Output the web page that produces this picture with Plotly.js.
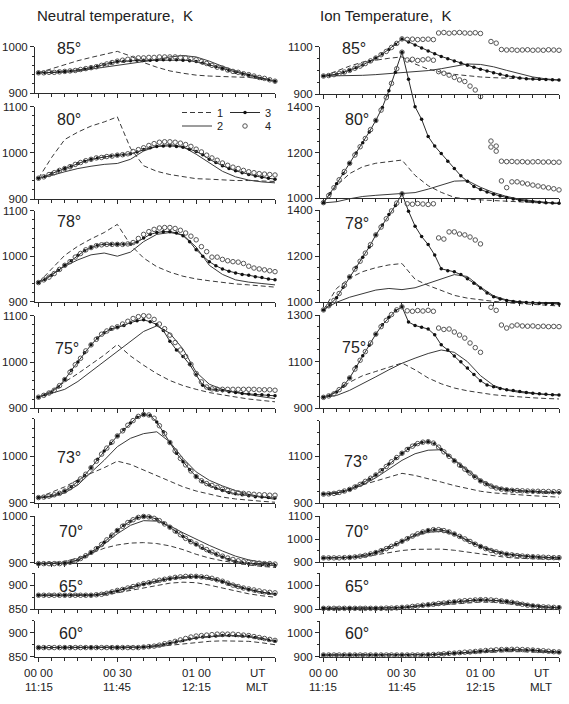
<!DOCTYPE html>
<html>
<head>
<meta charset="utf-8">
<script src="https://cdn.plot.ly/plotly-3.0.1.min.js"></script>
<style>
html,body{margin:0;padding:0;background:#fff;}
#chart{width:569px;height:704px;}
</style>
</head>
<body>
<div id="chart"></div>
<script>
// Time grids, minutes after 00:00 UT
const T5 = [0,5,10,15,20,25,30,35,40,45,50,55,60,65,70,75,80,85,90];
const T25 = [0,2.5,5,7.5,10,12.5,15,17.5,20,22.5,25,27.5,30,32.5,35,37.5,40,42.5,45,47.5,50,52.5,55,57.5,60,62.5,65,67.5,70,72.5,75,77.5,80,82.5,85,87.5,90];
const T2 = [0,2,4,6,8,10,12,14,16,18,20,22,24,26,28,30,32,34,36,38,40,42,44,46,48,50,52,54,56,58,60,62,64,66,68,70,72,74,76,78,80,82,84,86,88,90];

// Axis labels
const UT_LABELS = ["00 00","00 30","01 00","UT"];
const MLT_LABELS = ["11:15","11:45","12:15","MLT"];
const LABEL_MIN = [0,30,60,83.3];
const LATS = ["85°","80°","78°","75°","73°","70°","65°","60°"];
const SERIES_NAMES = ["1","2","3","4"];

// Neutral temperature, K
const n85_s1 = [944,953,962,970,977,984,990,980,966,956,948,943,939,937,936,935,934,931,926];
const n85_s2 = [944,944,945,948,952,956,960,964,967,972,978,981,978,969,958,948,940,933,926];
const n85_s3 = [944,944,945,946,947,948,950,952,955,958,962,965,968,969,970,971,971,971,971,972,972,972,971,970,968,965,961,957,953,949,945,942,939,935,932,929,926];
const n85_s4 = [944,944,945,945,946,947,948,949,951,953,955,957,960,963,966,969,971,973,975,976,976,977,977,978,978,978,978,977,976,974,972,968,964,960,956,954,950,947,945,942,940,937,934,932,929,926];

const n80_s1 = [945,990,1029,1045,1058,1067,1078,1010,972,960,953,948,944,943,941,940,940,939,938];
const n80_s2 = [945,951,959,966,971,975,977,986,1004,1014,1018,1013,997,978,960,948,941,937,935];
const n80_s3 = [945,949,955,961,966,971,977,982,986,989,991,993,995,996,998,1002,1007,1011,1014,1015,1015,1014,1012,1008,1003,996,986,979,972,966,961,957,953,950,947,945,943];
const n80_s4 = [945,948,953,957,962,966,970,975,979,983,986,989,990,992,993,995,996,998,1003,1007,1011,1016,1020,1023,1024,1024,1023,1021,1018,1014,1008,1002,995,989,984,978,973,969,966,962,959,957,955,954,953,952];

const n78_s1 = [942,972,1002,1022,1038,1052,1070,1025,996,977,965,956,950,946,942,939,937,934,932];
const n78_s2 = [942,960,978,992,1003,1007,1000,1009,1032,1048,1052,1047,1020,980,960,948,943,940,937];
const n78_s3 = [942,949,958,969,980,990,1002,1012,1019,1024,1026,1026,1026,1026,1027,1031,1040,1048,1052,1054,1054,1051,1045,1032,1014,1000,988,979,972,967,963,960,958,955,953,950,948];
const n78_s4 = [942,948,954,962,971,980,988,998,1006,1014,1019,1023,1025,1026,1026,1026,1026,1027,1030,1039,1048,1054,1059,1062,1063,1063,1061,1057,1051,1044,1036,1021,1010,998,998,993,990,988,987,984,978,974,972,970,968,966];

const n75_s1 = [924,938,957,975,995,1015,1038,1013,993,975,960,949,941,934,929,924,920,917,914];
const n75_s2 = [924,932,941,958,980,1002,1024,1046,1066,1078,1062,1028,978,952,941,934,929,925,921];
const n75_s3 = [924,929,935,946,962,982,1000,1020,1037,1052,1063,1071,1075,1079,1085,1089,1091,1087,1081,1068,1045,1026,1012,995,972,950,942,940,938,936,934,932,931,930,929,928,927];
const n75_s4 = [924,928,933,939,949,962,978,994,1008,1024,1037,1049,1060,1067,1073,1076,1082,1088,1094,1098,1100,1099,1092,1082,1072,1058,1042,1026,1012,995,975,957,946,942,941,941,941,941,941,941,941,941,940,940,940,939];

const n73_s1 = [911,922,934,949,963,975,989,982,970,957,945,934,925,918,912,908,905,903,901];
const n73_s2 = [911,913,921,938,965,991,1020,1038,1048,1052,1030,995,966,948,936,926,918,912,907];
const n73_s3 = [911,912,915,919,925,934,946,958,975,993,1011,1027,1043,1057,1071,1083,1089,1087,1073,1052,1029,1006,988,971,956,945,938,931,926,922,919,917,915,913,912,911,910];
const n73_s4 = [911,912,914,917,920,925,932,941,951,961,975,989,1004,1017,1030,1043,1054,1066,1076,1085,1089,1088,1081,1065,1048,1029,1011,995,981,968,956,947,941,937,933,929,926,923,921,920,919,918,917,917,916,916];

const n70_s1 = [899,900,903,910,920,931,938,942,943,941,936,928,918,910,904,899,895,892,890];
const n70_s2 = [898,898,899,905,919,940,962,980,990,989,979,964,950,937,925,914,906,901,898];
const n70_s3 = [898,898,898,898,899,902,906,913,922,932,944,957,969,980,989,996,999,998,993,985,976,966,956,947,939,931,924,918,912,907,903,900,898,897,896,895,894];
const n70_s4 = [898,898,898,898,898,899,901,904,909,915,922,930,939,949,959,969,978,986,992,997,999,998,995,990,983,976,968,960,952,945,940,934,928,923,918,914,910,907,904,902,901,900,899,898,898,897];

const n65_s1 = [879,879,879,879,879,880,884,889,895,900,904,906,905,900,894,888,882,878,875];
const n65_s2 = [879,879,879,879,879,882,888,895,902,909,914,917,918,915,908,899,891,885,881];
const n65_s3 = [879,879,879,879,879,879,879,879,879,880,882,885,888,892,895,899,902,905,908,911,913,915,916,917,917,916,914,911,907,902,898,894,891,888,885,883,881];
const n65_s4 = [879,879,879,879,879,879,879,879,879,879,879,880,881,883,886,889,891,894,897,900,903,905,908,910,912,914,916,917,918,918,918,917,916,914,911,908,904,900,897,894,892,890,888,886,885,884];

const n60_s1 = [869,869,869,869,869,869,869,869,869,871,874,877,880,882,883,883,882,879,875];
const n60_s2 = [869,869,869,869,869,869,869,869,870,873,878,884,889,892,894,894,892,888,882];
const n60_s3 = [869,869,869,869,869,869,869,869,869,869,869,869,869,869,869,869,870,871,873,875,878,881,884,887,889,891,892,893,894,894,894,893,892,890,888,885,882];
const n60_s4 = [869,869,869,869,869,869,869,869,869,869,869,869,869,869,869,869,869,869,869,869,870,871,872,874,877,879,882,885,888,891,893,894,895,896,897,897,897,897,896,895,894,892,890,888,886,884];

// Ion temperature, K
const i85_s1 = [976,997,1018,1035,1044,1051,1057,1027,1005,992,983,976,972,969,967,965,963,961,959];
const i85_s2 = [976,976,977,979,982,986,990,994,999,1007,1018,1027,1025,1015,1000,986,972,964,959];
const i85_s3 = [976,979,984,991,1000,1011,1023,1037,1052,1069,1088,1110,1133,1120,1107,1094,1082,1070,1059,1049,1040,1031,1022,1013,1005,997,990,983,977,972,968,965,963,962,961,960,959];
const i85_s4 = [976,978,982,987,993,1000,1009,1018,1029,1040,1052,1066,1080,1097,1114,1133,1131,1132,1130,1131,1132,1130,1158,1160,1157,1159,1160,1158,1157,1159,1156,null,1122,1115,1088,1086,1087,1085,1086,1087,1085,1086,1085,1087,1086,1085];

const i80_s1 = [981,1055,1108,1138,1153,1161,1167,1100,1055,1026,1004,996,993,990,987,984,981,978,976];
const i80_s2 = [980,985,998,1008,1013,1017,1020,1025,1040,1058,1075,1077,1048,1025,1008,996,988,982,978];
const i80_s3 = [981,1020,1063,1108,1153,1198,1243,1290,1340,1397,1470,1550,1638,1520,1400,1345,1270,1228,1196,1162,1130,1098,1074,1052,1038,1027,1018,1010,1003,997,992,988,985,983,981,979,978];
const i80_s4 = [981,1012,1046,1081,1117,1153,1189,1225,1261,1300,1340,1385,1440,1502,1566,1638,1604,1607,1602,1605,1608,1603,1553,1546,1538,1528,1517,1510,1490,1473,1444,null,1250,1228,1162,1160,1161,1159,1160,1158,1159,1160,1158,1159,1157,1158];

const i78_s1 = [967,1060,1105,1133,1150,1162,1168,1100,1073,1052,1030,1018,1010,1004,998,994,991,987,984];
const i78_s2 = [967,1000,1022,1039,1053,1060,1055,1063,1082,1103,1120,1112,1066,1028,1010,1002,998,995,993];
const i78_s3 = [967,990,1020,1065,1110,1152,1195,1240,1292,1335,1380,1420,1470,1395,1330,1285,1250,1205,1145,1137,1132,1120,1102,1083,1062,1040,1024,1014,1008,1004,1001,999,998,996,995,994,993];
const i78_s4 = [967,985,1008,1038,1074,1110,1144,1178,1213,1250,1292,1326,1362,1396,1430,1470,1427,1425,1428,1426,1424,1427,1279,1274,1305,1305,1296,1292,1283,1270,1253,null,1673,1655,1526,1497,1522,1522,1517,1513,1508,1504,1500,1496,1492,1487];

const i75_s1 = [947,972,1012,1040,1058,1075,1094,1065,1030,1005,987,975,965,958,953,948,945,942,940];
const i75_s2 = [947,955,977,1005,1035,1065,1093,1115,1135,1150,1140,1100,1040,998,978,968,962,959,957];
const i75_s3 = [947,955,970,995,1030,1078,1125,1170,1218,1258,1290,1318,1335,1270,1255,1247,1240,1215,1172,1150,1124,1100,1073,1045,1018,1000,992,985,980,976,972,968,965,962,960,958,957];
const i75_s4 = [947,953,962,980,1002,1030,1068,1106,1143,1180,1218,1250,1277,1302,1322,1335,1318,1316,1319,1317,1320,1316,1244,1238,1240,1227,1214,1201,1180,1160,1140,null,1333,1320,1257,1244,1253,1257,1253,1252,1253,1250,1252,1250,1251,1250];

const i73_s1 = [939,948,962,978,995,1012,1027,1018,1005,990,975,962,951,944,939,935,932,929,926];
const i73_s2 = [939,943,956,978,1008,1045,1082,1110,1125,1127,1085,1040,1000,972,960,954,950,948,946];
const i73_s3 = [939,940,943,950,959,972,986,1002,1020,1042,1066,1090,1112,1132,1148,1158,1161,1152,1128,1104,1080,1057,1036,1014,995,980,968,961,957,954,952,950,949,948,947,946,945];
const i73_s4 = [939,940,942,946,952,959,969,980,993,1006,1020,1038,1056,1076,1094,1112,1128,1142,1153,1159,1161,1155,1138,1118,1099,1080,1062,1045,1028,1011,995,983,973,965,960,957,955,954,953,952,951,951,950,950,949,949];

const i70_s1 = [919,919,919,922,932,943,951,956,958,957,952,944,935,927,921,917,915,913,912];
const i70_s2 = [919,919,921,928,942,963,990,1015,1030,1033,1020,996,970,950,937,929,924,921,919];
const i70_s3 = [919,919,919,920,921,924,928,934,942,952,964,977,991,1005,1018,1029,1037,1041,1040,1033,1022,1009,995,981,968,957,948,941,935,931,928,926,924,922,921,920,919];
const i70_s4 = [919,919,919,919,920,921,923,926,930,936,942,950,959,969,980,991,1002,1013,1023,1031,1037,1041,1041,1037,1031,1022,1012,1001,990,978,968,959,951,945,939,935,932,929,927,925,924,923,922,921,920,920];

const i65_s1 = [904,904,904,904,904,905,907,910,914,919,924,928,930,929,924,917,911,907,905];
const i65_s2 = [904,904,904,904,904,905,907,912,918,924,930,935,938,937,931,922,914,909,907];
const i65_s3 = [904,904,904,904,904,904,904,904,904,904,905,906,908,910,913,916,919,922,925,928,931,934,936,938,939,939,938,936,932,928,923,919,915,912,910,908,907];
const i65_s4 = [904,904,904,904,904,904,904,904,904,904,904,904,905,905,906,908,909,912,914,917,919,921,924,926,929,931,934,936,937,939,940,940,939,937,935,932,929,925,921,917,914,912,910,909,908,907];

const i60_s1 = [907,907,907,907,907,907,907,907,908,910,912,915,918,920,921,921,920,918,916];
const i60_s2 = [907,907,907,907,907,907,907,907,908,911,915,919,923,926,928,929,927,923,919];
const i60_s3 = [907,907,907,907,907,907,907,907,907,907,907,907,907,907,907,907,908,909,911,913,915,917,919,921,923,925,927,928,929,929,929,928,927,925,923,921,919];
const i60_s4 = [907,907,907,907,907,907,907,907,907,907,907,907,907,907,907,907,907,907,907,907,908,909,910,912,914,915,917,919,920,922,924,926,927,929,930,930,931,931,930,929,928,926,925,923,921,920];

// Panel frames: column, value range, pixel box (top,bottom), labelled ticks, minor step, label spot
const PANELS = [
  {col:0, lat:0, range:[900,1000], px:[46.7,93.3],  ticks:[900,1000],      minor:20, lx:55, ly:49,  data:[n85_s1,n85_s2,n85_s3,n85_s4]},
  {col:0, lat:1, range:[900,1100], px:[106.7,199],  ticks:[900,1000,1100], minor:20, lx:55, ly:119, data:[n80_s1,n80_s2,n80_s3,n80_s4], legend:true},
  {col:0, lat:2, range:[900,1100], px:[210.7,301.7],ticks:[900,1000,1100], minor:20, lx:55, ly:221, data:[n78_s1,n78_s2,n78_s3,n78_s4]},
  {col:0, lat:3, range:[900,1100], px:[315.7,408.3],ticks:[900,1000,1100], minor:20, lx:53, ly:348, data:[n75_s1,n75_s2,n75_s3,n75_s4]},
  {col:0, lat:4, range:[900,1080], px:[418.7,502.7],ticks:[900,1000],      minor:20, lx:55, ly:458, data:[n73_s1,n73_s2,n73_s3,n73_s4]},
  {col:0, lat:5, range:[900,1000], px:[516,562.7],  ticks:[900,1000],      minor:20, lx:57, ly:531, data:[n70_s1,n70_s2,n70_s3,n70_s4]},
  {col:0, lat:6, range:[850,925],  px:[573,609.3],  ticks:[850,900],       minor:25, lx:57, ly:586, data:[n65_s1,n65_s2,n65_s3,n65_s4]},
  {col:0, lat:7, range:[850,925],  px:[620.7,656.7],ticks:[850,900],       minor:25, lx:57, ly:633, data:[n60_s1,n60_s2,n60_s3,n60_s4]},
  {col:1, lat:0, range:[900,1100], px:[46.7,94],    ticks:[900,1100],      minor:50, lx:340, ly:49,  data:[i85_s1,i85_s2,i85_s3,i85_s4]},
  {col:1, lat:1, range:[1000,1400],px:[106.7,198.3],ticks:[1000,1200,1400],minor:50, lx:343, ly:119, data:[i80_s1,i80_s2,i80_s3,i80_s4]},
  {col:1, lat:2, range:[1000,1400],px:[210,302.3],  ticks:[1000,1200,1400],minor:50, lx:343, ly:224, data:[i78_s1,i78_s2,i78_s3,i78_s4]},
  {col:1, lat:3, range:[900,1300], px:[315,408.3],  ticks:[900,1100,1300], minor:50, lx:340, ly:347, data:[i75_s1,i75_s2,i75_s3,i75_s4]},
  {col:1, lat:4, range:[900,1250], px:[420.7,503.3],ticks:[900,1100],      minor:50, lx:342, ly:461, data:[i73_s1,i73_s2,i73_s3,i73_s4]},
  {col:1, lat:5, range:[900,1100], px:[516,562.3],  ticks:[900,1000,1100], minor:50, lx:343, ly:531, data:[i70_s1,i70_s2,i70_s3,i70_s4]},
  {col:1, lat:6, range:[900,1050], px:[573.3,609.3],ticks:[900,1000],      minor:50, lx:343, ly:586, data:[i65_s1,i65_s2,i65_s3,i65_s4]},
  {col:1, lat:7, range:[900,1050], px:[621,656.7],  ticks:[900,1000],      minor:50, lx:343, ly:633, data:[i60_s1,i60_s2,i60_s3,i60_s4]}
];

const W = 569, H = 704;
const COLS = [[35,275],[320,559]];
const XRANGE = [-1.33, 90];
const INK = '#2b2b2b';
const FONT = 'Liberation Sans, Arial, Helvetica, sans-serif';

function sfx(i){ return i === 1 ? '' : String(i); }

function legendBox(yPx){
  return {orientation:'h', x:177/W, xanchor:'left', y:1-yPx/H, yanchor:'middle',
          bgcolor:'rgba(0,0,0,0)', itemwidth:30, entrywidth:3, entrywidthmode:'pixels',
          font:{family:FONT, size:11, color:'#222'}, tracegroupgap:0, itemclick:false};
}

const layout = {
  width: W, height: H,
  margin: {l:0, r:0, t:0, b:0},
  paper_bgcolor: '#ffffff',
  plot_bgcolor: 'rgba(0,0,0,0)',
  font: {family: FONT, size: 11, color: '#222'},
  showlegend: true,
  hovermode: false,
  annotations: [],
  legend: legendBox(112.5),
  legend2: legendBox(126)
};

const traces = [];

PANELS.forEach((p, k) => {
  const i = k + 1, hid = k + 17;
  const [pt, pb] = p.px;
  const [r0, r1] = p.range;
  const perPx = (r1 - r0) / (pb - pt);
  const xd = [COLS[p.col][0] / W, COLS[p.col][1] / W];

  layout['xaxis' + sfx(i)] = {
    domain: xd, range: XRANGE, anchor: 'y' + sfx(i),
    showline: true, linecolor: INK, linewidth: 1, mirror: false,
    ticks: 'outside', ticklen: 4, tickwidth: 1, tickcolor: INK,
    tickmode: 'array', tickvals: [0,30,60,90], showticklabels: false,
    minor: {ticks: 'outside', ticklen: 3, tickwidth: 1, tickcolor: INK, tick0: 0, dtick: 5, showgrid: false},
    showgrid: false, zeroline: false, fixedrange: true
  };
  layout['yaxis' + sfx(i)] = {
    domain: [1 - pb / H, 1 - pt / H], range: [r0, r1], anchor: 'x' + sfx(i),
    showline: true, linecolor: INK, linewidth: 1,
    ticks: 'outside', ticklen: 4, tickwidth: 1, tickcolor: INK,
    tickmode: 'array', tickvals: p.ticks, ticktext: p.ticks.map(String),
    tickfont: {family: FONT, size: 11.5, color: '#222'},
    minor: {ticks: 'outside', ticklen: 2, tickwidth: 1, tickcolor: INK, tick0: r0, dtick: p.minor, showgrid: false},
    showgrid: false, zeroline: false, fixedrange: true
  };
  // full-height companion axis on the same scale, so curves may run past the frame
  layout['yaxis' + hid] = {
    domain: [0, 1], range: [r0 - (H - pb) * perPx, r1 + pt * perPx],
    anchor: 'x' + sfx(i), visible: false, fixedrange: true
  };

  const xa = 'x' + sfx(i), ya = 'y' + hid;
  const leg = p.legend === true;
  const [s1, s2, s3, s4] = p.data;

  traces.push({type:'scatter', x:[], y:[], xaxis:xa, yaxis:'y' + sfx(i), mode:'lines', showlegend:false, hoverinfo:'skip'});
  traces.push({type:'scatter', x:T5, y:s1, xaxis:xa, yaxis:ya, mode:'lines', name:SERIES_NAMES[0],
    line:{color:'#3a3a3a', width:1, dash:'5px,3px'}, showlegend:leg, legend:'legend', hoverinfo:'skip'});
  traces.push({type:'scatter', x:T5, y:s2, xaxis:xa, yaxis:ya, mode:'lines', name:SERIES_NAMES[1],
    line:{color:'#3a3a3a', width:1}, showlegend:leg, legend:'legend2', hoverinfo:'skip'});
  traces.push({type:'scatter', x:T25, y:s3, xaxis:xa, yaxis:ya, mode:'lines+markers', name:SERIES_NAMES[2],
    line:{color:INK, width:1}, marker:{size:3.5, color:'#111'}, cliponaxis:false,
    showlegend:leg, legend:'legend', hoverinfo:'skip'});
  traces.push({type:'scatter', x:T2, y:s4, xaxis:xa, yaxis:ya, mode:'markers', name:SERIES_NAMES[3],
    marker:{symbol:'circle-open', size:4.5, color:'#555', line:{width:1}}, cliponaxis:false,
    showlegend:leg, legend:'legend2', hoverinfo:'skip'});

  layout.annotations.push({text: LATS[p.lat], xref:'paper', yref:'paper',
    x: p.lx / W, y: 1 - p.ly / H, xanchor:'left', yanchor:'middle', showarrow:false,
    font:{family:FONT, size:16, color:'#222'}});
});

// Column titles
layout.annotations.push({text:'Neutral temperature,\u00a0 K', xref:'paper', yref:'paper',
  x:35/W, y:1-16/H, xanchor:'left', yanchor:'middle', showarrow:false, font:{family:FONT, size:15, color:'#222'}});
layout.annotations.push({text:'Ion Temperature,\u00a0 K', xref:'paper', yref:'paper',
  x:318/W, y:1-16/H, xanchor:'left', yanchor:'middle', showarrow:false, font:{family:FONT, size:15, color:'#222'}});

// Time labels under both bottom panels
['x8','x16'].forEach(xr => {
  LABEL_MIN.forEach((m, n) => {
    layout.annotations.push({text: UT_LABELS[n], xref: xr, yref:'paper', x: m, y: 1 - 673/H,
      xanchor:'center', yanchor:'middle', showarrow:false, font:{family:FONT, size:11.5, color:'#222'}});
    layout.annotations.push({text: MLT_LABELS[n], xref: xr, yref:'paper', x: m, y: 1 - 687/H,
      xanchor:'center', yanchor:'middle', showarrow:false, font:{family:FONT, size:11.5, color:'#222'}});
  });
});

Plotly.newPlot('chart', traces, layout, {staticPlot:true, displayModeBar:false});
</script>
</body>
</html>
